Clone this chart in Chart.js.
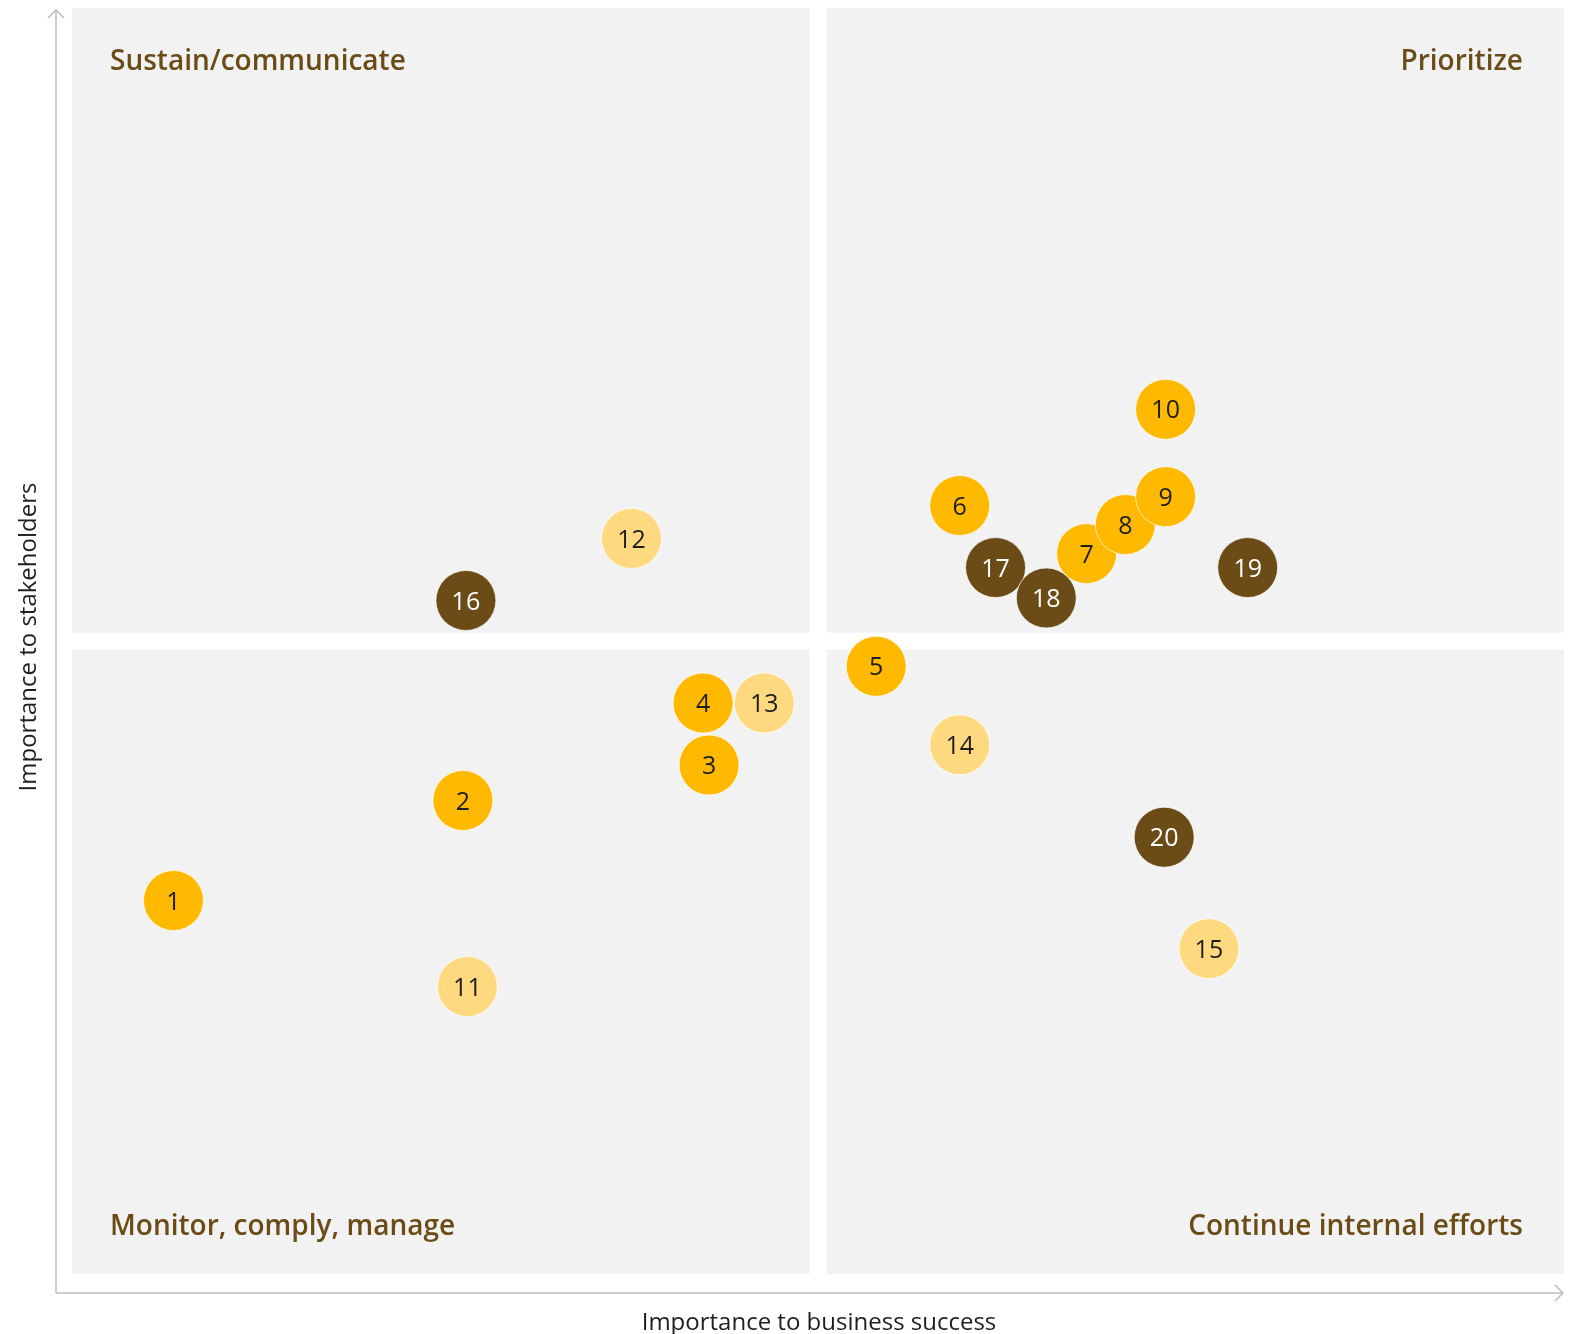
<!DOCTYPE html>
<html>
<head>
<meta charset="utf-8">
<title>Materiality matrix</title>
<script src="https://cdn.jsdelivr.net/npm/chart.js@4/dist/chart.umd.min.js"></script>
<style>
  html, body { margin: 0; padding: 0; background: #fff; }
  #wrap { width: 1574px; height: 1334px; }
</style>
</head>
<body>
<div id="wrap"><canvas id="matrix" width="1574" height="1334"></canvas></div>
<script>
// Topics: number, position on both axes (0-100) and colour group
const topicIds = ['1','2','3','4','5','6','7','8','9','10','11','12','13','14','15','16','17','18','19','20'];
const businessScore = [6.8, 26.2, 42.7, 42.3, 53.9, 59.5, 68.0, 70.6, 73.3, 73.3, 26.5, 37.5, 46.4, 59.5, 76.2, 26.4, 61.9, 65.3, 78.8, 73.2];
const stakeholderScore = [29.5, 37.4, 40.2, 45.1, 48.0, 60.7, 56.9, 59.2, 61.4, 68.3, 22.7, 58.1, 45.1, 41.8, 25.7, 53.2, 55.8, 53.4, 55.8, 34.5];
const topicGroup = ['a','a','a','a','a','a','a','a','a','a','b','b','b','b','b','c','c','c','c','c'];

const quadrantLabels = ['Sustain/communicate', 'Prioritize', 'Monitor, comply, manage', 'Continue internal efforts'];
const xTitle = 'Importance to business success';
const yTitle = 'Importance to stakeholders';

const groupFill = { a: '#FFB900', b: '#FFD97F', c: '#6B4C17' };
const groupText = { a: '#1E1E1E', b: '#1E1E1E', c: '#FFFFFF' };
const font = '"Open Sans", "Noto Sans", sans-serif';

const points = topicIds.map((id, i) => ({ x: businessScore[i], y: stakeholderScore[i], r: 30 }));

// grey quadrants, axis arrows and titles
const backdrop = {
  id: 'backdrop',
  beforeDatasetsDraw(chart) {
    const { ctx, chartArea: a, scales } = chart;
    const cx = scales.x.getPixelForValue(50);
    const cy = scales.y.getPixelForValue(50);
    const gap = 8.5;
    ctx.save();
    ctx.fillStyle = '#F2F2F2';
    ctx.fillRect(a.left, a.top, cx - gap - a.left, cy - gap - a.top);
    ctx.fillRect(cx + gap, a.top, a.right - cx - gap, cy - gap - a.top);
    ctx.fillRect(a.left, cy + gap, cx - gap - a.left, a.bottom - cy - gap);
    ctx.fillRect(cx + gap, cy + gap, a.right - cx - gap, a.bottom - cy - gap);

    // axes with open arrow heads
    const ox = a.left - 16, oy = a.bottom + 19;
    ctx.strokeStyle = '#BDBDBD';
    ctx.lineWidth = 1.5;
    ctx.beginPath();
    ctx.moveTo(ox, oy);
    ctx.lineTo(ox, a.top + 2);
    ctx.moveTo(ox - 8, a.top + 10);
    ctx.lineTo(ox, a.top + 2);
    ctx.lineTo(ox + 8, a.top + 10);
    ctx.moveTo(ox, oy);
    ctx.lineTo(a.right - 1, oy);
    ctx.moveTo(a.right - 9, oy - 8);
    ctx.lineTo(a.right - 1, oy);
    ctx.lineTo(a.right - 9, oy + 8);
    ctx.stroke();

    // quadrant names
    ctx.fillStyle = '#6B4C17';
    ctx.font = '600 28px ' + font;
    ctx.textBaseline = 'middle';
    ctx.textAlign = 'left';
    ctx.fillText(quadrantLabels[0], a.left + 38, a.top + 54);
    ctx.fillText(quadrantLabels[2], a.left + 38, a.bottom - 47);
    ctx.textAlign = 'right';
    ctx.fillText(quadrantLabels[1], a.right - 41, a.top + 54);
    ctx.fillText(quadrantLabels[3], a.right - 41, a.bottom - 47);

    // axis titles
    ctx.fillStyle = '#1E1E1E';
    ctx.font = '24px ' + font;
    ctx.textAlign = 'center';
    ctx.fillText(xTitle, cx + 1, oy + 30);
    ctx.save();
    ctx.translate(29, cy - 4);
    ctx.rotate(-Math.PI / 2);
    ctx.fillText(yTitle, 0, 0);
    ctx.restore();
    ctx.restore();
  }
};

// topic numbers inside the bubbles
const bubbleNumbers = {
  id: 'bubbleNumbers',
  afterDatasetsDraw(chart) {
    const { ctx } = chart;
    const meta = chart.getDatasetMeta(0);
    ctx.save();
    ctx.font = '25px ' + font;
    ctx.textAlign = 'center';
    ctx.textBaseline = 'middle';
    meta.data.forEach((el, i) => {
      ctx.fillStyle = groupText[topicGroup[i]];
      ctx.fillText(topicIds[i], el.x, el.y + 2);
    });
    ctx.restore();
  }
};

new Chart(document.getElementById('matrix'), {
  type: 'bubble',
  data: {
    labels: topicIds,
    datasets: [{
      data: points,
      backgroundColor: topicGroup.map(g => groupFill[g]),
      borderColor: 'rgba(255,255,255,0.7)',
      borderWidth: 1,
      hoverRadius: 0
    }]
  },
  options: {
    responsive: false,
    animation: false,
    layout: { autoPadding: false, padding: { left: 72, top: 8, right: 10, bottom: 60 } },
    scales: {
      x: { display: false, min: 0, max: 100 },
      y: { display: false, min: 0, max: 100 }
    },
    plugins: { legend: { display: false }, tooltip: { enabled: false } }
  },
  plugins: [backdrop, bubbleNumbers]
});
</script>
</body>
</html>
